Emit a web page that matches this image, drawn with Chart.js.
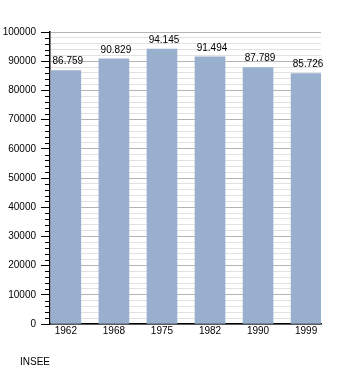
<!DOCTYPE html>
<html lang="fr">
<head>
    <meta charset="UTF-8">
    <title>Population INSEE</title>
    <script src="https://cdn.jsdelivr.net/npm/chart.js"></script>
    <style>
        body { margin: 0; background: #fff; }
        #wrap { width: 350px; height: 373px; }
    </style>
</head>
<body>
<div id="wrap"><canvas id="popChart" width="350" height="373"></canvas></div>
<script>
    const years = ['1962', '1968', '1975', '1982', '1990', '1999'];
    const population = [86759, 90829, 94145, 91494, 87789, 85726];
    const valueLabels = ['86.759', '90.829', '94.145', '91.494', '87.789', '85.726'];
    const sourceText = 'INSEE';

    const FONT = 'Liberation Sans, Arial, sans-serif';
    const isMajor = (v) => v % 10000 === 0;

    const extras = {
        id: 'extras',
        afterDatasetsDraw(chart) {
            const ctx = chart.ctx;
            const meta = chart.getDatasetMeta(0);
            ctx.save();
            ctx.font = '10px ' + FONT;
            ctx.fillStyle = '#000';
            ctx.textAlign = 'center';
            ctx.textBaseline = 'bottom';
            meta.data.forEach((bar, i) => {
                ctx.fillText(valueLabels[i], bar.x + 2, bar.y - 4);
            });
            ctx.restore();
        },
        afterDraw(chart) {
            const ctx = chart.ctx;
            const y = chart.scales.y;
            const left = chart.chartArea.left;
            ctx.save();
            // short minor tick marks
            ctx.strokeStyle = '#000';
            ctx.lineWidth = 1;
            y.ticks.forEach(t => {
                if (isMajor(t.value)) return;
                const py = Math.round(y.getPixelForValue(t.value)) + 0.5;
                ctx.beginPath();
                ctx.moveTo(left - 5, py);
                ctx.lineTo(left, py);
                ctx.stroke();
            });
            ctx.font = '10px ' + FONT;
            ctx.fillStyle = '#000';
            ctx.textBaseline = 'middle';
            ctx.fillText(sourceText, 20, 362);
            ctx.restore();
        }
    };

    new Chart(document.getElementById('popChart').getContext('2d'), {
        type: 'bar',
        data: {
            datasets: [{
                data: population.map((v, i) => ({ x: i, y: v })),
                backgroundColor: 'rgb(152, 176, 205)',
                borderWidth: 0,
                barThickness: 30
            }]
        },
        options: {
            responsive: false,
            animation: false,
            layout: { padding: { top: 32, right: 29, left: 0, bottom: 0 } },
            plugins: { legend: { display: false }, tooltip: { enabled: false } },
            scales: {
                x: {
                    type: 'linear',
                    offset: false,
                    min: -0.33,
                    max: 5.31,
                    afterBuildTicks(scale) {
                        scale.ticks = years.map((y, i) => ({ value: i }));
                    },
                    afterFit(scale) { scale.height = 49; },
                    grid: { display: false, drawTicks: false },
                    border: { display: true, color: '#000', width: 1.5 },
                    ticks: {
                        color: '#000',
                        font: { family: FONT, size: 10 },
                        padding: 1,
                        maxRotation: 0,
                        callback: (v) => years[v]
                    }
                },
                y: {
                    min: 0,
                    max: 100000,
                    afterFit(scale) { scale.width = 50; },
                    border: { display: true, color: '#000', width: 1.5 },
                    grid: {
                        color: (c) => (c.tick && isMajor(c.tick.value)) ? '#b4b4b4' : '#e2e2e2',
                        tickColor: (c) => (c.tick && isMajor(c.tick.value)) ? '#000' : 'rgba(0,0,0,0)',
                        tickLength: 9,
                        drawTicks: true
                    },
                    ticks: {
                        stepSize: 2000,
                        autoSkip: false,
                        color: '#000',
                        font: { family: FONT, size: 10 },
                        padding: 5,
                        callback: (v) => (isMajor(v) ? String(v) : '')
                    }
                }
            }
        },
        plugins: [extras]
    });
</script>
</body>
</html>
